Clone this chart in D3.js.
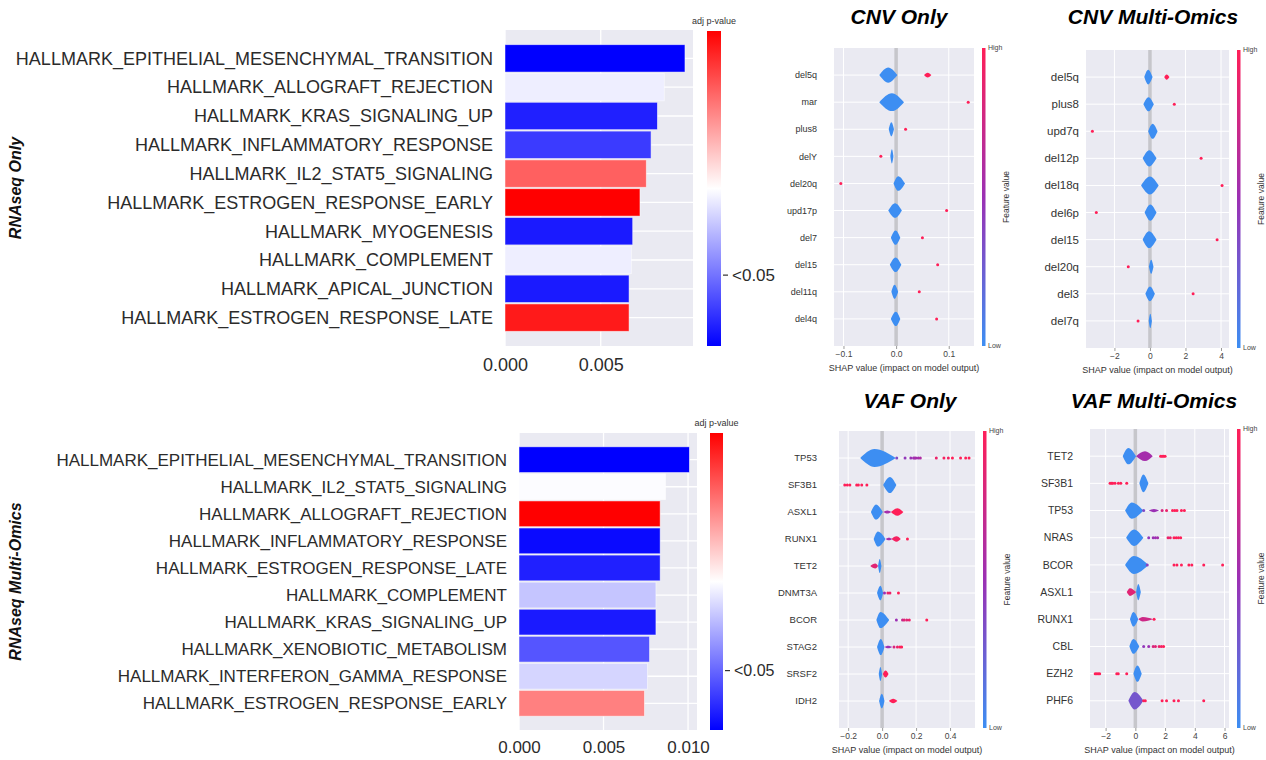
<!DOCTYPE html>
<html>
<head>
<meta charset="utf-8">
<script src="https://cdn.jsdelivr.net/npm/d3@7"></script>
<style>
  body { margin: 0; background: #ffffff; }
  text { font-family: "Liberation Sans", Arial, sans-serif; }
</style>
</head>
<body>
<svg id="fig" width="1266" height="760"></svg>
<script>
// ---------- RNAseq bar charts (enrichment score, colour = adj p-value position on bwr scale) ----------
var rnaOnlyTerms = [
  "HALLMARK_EPITHELIAL_MESENCHYMAL_TRANSITION",
  "HALLMARK_ALLOGRAFT_REJECTION",
  "HALLMARK_KRAS_SIGNALING_UP",
  "HALLMARK_INFLAMMATORY_RESPONSE",
  "HALLMARK_IL2_STAT5_SIGNALING",
  "HALLMARK_ESTROGEN_RESPONSE_EARLY",
  "HALLMARK_MYOGENESIS",
  "HALLMARK_COMPLEMENT",
  "HALLMARK_APICAL_JUNCTION",
  "HALLMARK_ESTROGEN_RESPONSE_LATE",
];
var rnaOnlyScores = [0.0094, 0.00832, 0.00796, 0.00763, 0.00738, 0.00705, 0.00667, 0.0066, 0.00648, 0.00648];
var rnaOnlyPval = [0, 0.467, 0.063, 0.116, 0.812, 1, 0.05, 0.467, 0.05, 0.95];
var rnaOnlyTicks = [0, 0.005];
var rnaOnlyCbarTick = 0.225; // where "<0.05" sits on the colour bar

var rnaMultiTerms = [
  "HALLMARK_EPITHELIAL_MESENCHYMAL_TRANSITION",
  "HALLMARK_IL2_STAT5_SIGNALING",
  "HALLMARK_ALLOGRAFT_REJECTION",
  "HALLMARK_INFLAMMATORY_RESPONSE",
  "HALLMARK_ESTROGEN_RESPONSE_LATE",
  "HALLMARK_COMPLEMENT",
  "HALLMARK_KRAS_SIGNALING_UP",
  "HALLMARK_XENOBIOTIC_METABOLISM",
  "HALLMARK_INTERFERON_GAMMA_RESPONSE",
  "HALLMARK_ESTROGEN_RESPONSE_EARLY",
];
var rnaMultiScores = [0.01008, 0.00867, 0.00835, 0.00835, 0.00835, 0.0081, 0.0081, 0.00772, 0.0076, 0.00742];
var rnaMultiPval = [0, 0.495, 1, 0.02, 0.063, 0.386, 0.05, 0.167, 0.418, 0.75];
var rnaMultiTicks = [0, 0.005, 0.01];
var rnaMultiCbarTick = 0.2;

// ---------- SHAP summaries ----------
// violins: [row, low, peak, high, half height (share of row step), feature value 0..1]
// dots: [row, shap value, feature value 0..1]
var cnvOnlyFeatures = ["del5q", "mar", "plus8", "delY", "del20q", "upd17p", "del7", "del15", "del11q", "del4q"];
var cnvOnlyViolins = [
  [0, -0.032, -0.015, 0.0025, 0.28, 0], [0, 0.053, 0.06, 0.067, 0.09, 1],
  [1, -0.032, -0.008, 0.015, 0.33, 0],
  [2, -0.014, -0.009, -0.004, 0.26, 0],
  [3, -0.011, -0.008, -0.005, 0.26, 0],
  [4, -0.005, 0.004, 0.017, 0.27, 0],
  [5, -0.015, -0.002, 0.011, 0.27, 0],
  [6, -0.01, -0.001, 0.008, 0.26, 0],
  [7, -0.012, -0.001, 0.01, 0.27, 0],
  [8, -0.009, -0.003, 0.004, 0.26, 0],
  [9, -0.01, -0.0005, 0.008, 0.26, 0],
];
var cnvOnlyDots = [[1, 0.137, 1], [2, 0.018, 1], [3, -0.029, 1], [4, -0.105, 1], [5, 0.096, 1],
  [6, 0.05, 1], [7, 0.079, 1], [8, 0.044, 1], [9, 0.077, 1]];
var cnvOnlyDomain = [-0.118, 0.148];
var cnvOnlyTicks = [-0.1, 0, 0.1];

var cnvMultiFeatures = ["del5q", "plus8", "upd7q", "del12p", "del18q", "del6p", "del15", "del20q", "del3", "del7q"];
var cnvMultiViolins = [
  [0, -0.32, -0.1, 0.15, 0.27, 0], [0, 0.8, 0.94, 1.1, 0.1, 1],
  [1, -0.37, -0.08, 0.22, 0.26, 0],
  [2, -0.1, 0.15, 0.43, 0.28, 0],
  [3, -0.41, -0.04, 0.37, 0.3, 0],
  [4, -0.5, 0.0, 0.49, 0.33, 0],
  [5, -0.3, 0.02, 0.37, 0.3, 0],
  [6, -0.41, -0.05, 0.37, 0.31, 0],
  [7, -0.06, 0.07, 0.2, 0.26, 0],
  [8, -0.26, 0.0, 0.28, 0.27, 0],
  [9, -0.07, 0.02, 0.11, 0.26, 0],
];
var cnvMultiDots = [[1, 1.37, 1], [2, -3.24, 1], [3, 2.88, 1], [4, 4.06, 1], [5, -3.02, 1],
  [6, 3.78, 1], [7, -1.22, 1], [8, 2.43, 1], [9, -0.67, 1]];
var cnvMultiDomain = [-3.6, 4.45];
var cnvMultiTicks = [-2, 0, 2, 4];

var vafOnlyFeatures = ["TP53", "SF3B1", "ASXL1", "RUNX1", "TET2", "DNMT3A", "BCOR", "STAG2", "SRSF2", "IDH2"];
var vafOnlyViolins = [
  [0, -0.129, -0.045, 0.08, 0.33, 0],
  [1, 0.006, 0.046, 0.084, 0.3, 0],
  [2, -0.066, -0.036, 0.004, 0.28, 0], [2, 0.006, 0.03, 0.056, 0.06, 0.55], [2, 0.052, 0.09, 0.125, 0.14, 1],
  [3, -0.05, -0.025, 0.02, 0.28, 0], [3, 0.02, 0.04, 0.06, 0.05, 0.55], [3, 0.055, 0.085, 0.11, 0.1, 0.95],
  [4, -0.024, -0.014, -0.004, 0.26, 0], [4, -0.07, -0.04, -0.024, 0.09, 0.85],
  [5, -0.03, -0.01, 0.006, 0.27, 0],
  [6, -0.034, -0.01, 0.042, 0.3, 0],
  [7, -0.03, -0.008, 0.014, 0.3, 0], [7, 0.014, 0.035, 0.06, 0.05, 0.5],
  [8, -0.02, -0.01, 0.0, 0.26, 0], [8, 0.004, 0.02, 0.038, 0.13, 1],
  [9, -0.018, -0.002, 0.014, 0.27, 0], [9, 0.04, 0.065, 0.09, 0.08, 1],
];
var vafOnlyDots = [
  [0, 0.086, 0.35], [0, 0.135, 0.45], [0, 0.169, 0.5], [0, 0.185, 0.5], [0, 0.192, 0.55], [0, 0.199, 0.55],
  [0, 0.213, 0.55], [0, 0.225, 0.6], [0, 0.319, 0.9], [0, 0.364, 0.95], [0, 0.39, 0.95], [0, 0.414, 1],
  [0, 0.462, 1], [0, 0.492, 1], [0, 0.512, 1],
  [1, -0.22, 1], [1, -0.205, 1], [1, -0.19, 1], [1, -0.15, 1], [1, -0.14, 1], [1, -0.12, 1], [1, -0.09, 1],
  [3, 0.149, 1],
  [5, 0.014, 0.5], [5, 0.034, 0.9], [5, 0.046, 0.9], [5, 0.096, 1],
  [6, 0.084, 0.5], [6, 0.12, 0.7], [6, 0.13, 0.85], [6, 0.145, 0.85], [6, 0.16, 0.9], [6, 0.263, 1],
  [7, 0.07, 0.8], [7, 0.09, 0.9], [7, 0.105, 1], [7, 0.115, 1],
];
var vafOnlyDomain = [-0.254, 0.547];
var vafOnlyTicks = [-0.2, 0, 0.2, 0.4];

var vafMultiFeatures = ["TET2", "SF3B1", "TP53", "NRAS", "BCOR", "ASXL1", "RUNX1", "CBL", "EZH2", "PHF6"];
var vafMultiViolins = [
  [0, -0.85, -0.47, 0.05, 0.3, 0], [0, 0.05, 0.65, 1.17, 0.18, 0.55],
  [1, 0.27, 0.54, 0.88, 0.33, 0],
  [2, -0.69, -0.24, 0.54, 0.3, 0], [2, 0.9, 1.25, 1.6, 0.06, 0.5],
  [3, -0.62, -0.09, 0.54, 0.3, 0],
  [4, -0.69, -0.1, 0.88, 0.33, 0],
  [5, 0.05, 0.2, 0.37, 0.3, 0], [5, -0.58, -0.36, 0.05, 0.14, 0.85],
  [6, -0.36, -0.13, 0.2, 0.27, 0], [6, 0.2, 0.5, 1.2, 0.08, 0.75],
  [7, -0.4, -0.13, 0.27, 0.27, 0],
  [8, -0.13, 0.14, 0.43, 0.3, 0],
  [9, -0.47, -0.05, 0.54, 0.32, 0.3],
];
var vafMultiDots = [
  [0, 1.7, 1], [0, 1.8, 1], [0, 1.9, 1], [0, 2.0, 1],
  [1, -1.7, 1], [1, -1.6, 1], [1, -1.52, 1], [1, -1.37, 1], [1, -1.14, 1], [1, -0.98, 1], [1, -0.58, 1],
  [2, 0.56, 0.35], [2, 1.8, 0.8], [2, 2.1, 0.9], [2, 2.5, 1], [2, 2.65, 1], [2, 2.8, 1], [2, 3.1, 1], [2, 3.3, 1],
  [3, 0.9, 0.45], [3, 1.2, 0.5], [3, 1.35, 0.5], [3, 1.5, 0.55], [3, 2.2, 0.9], [3, 2.35, 0.9],
  [3, 2.6, 1], [3, 2.75, 1], [3, 2.9, 1], [3, 3.05, 1],
  [4, 0.8, 0.4], [4, 2.6, 1], [4, 2.8, 1], [4, 3.1, 1], [4, 3.6, 1], [4, 3.8, 1], [4, 4.6, 1], [4, 5.87, 1],
  [6, 1.26, 1],
  [7, 0.56, 0.45], [7, 0.9, 0.5], [7, 1.2, 0.8], [7, 1.35, 0.85], [7, 1.6, 0.9], [7, 1.75, 0.95], [7, 1.9, 1],
  [8, -2.7, 1], [8, -2.6, 1], [8, -2.5, 1], [8, -2.4, 1], [8, -1.25, 1], [8, -1.15, 1], [8, -0.58, 1],
  [9, 0.56, 1], [9, 0.67, 1], [9, 1.8, 1], [9, 2.1, 1], [9, 2.6, 1], [9, 2.9, 1], [9, 4.6, 1],
];
var vafMultiDomain = [-3.05, 6.3];
var vafMultiTicks = [-2, 0, 2, 4, 6];

var svg = d3.select("#fig");
var defs = svg.append("defs");

var bwr = d3.scaleLinear().domain([0, 0.5, 1]).range(["#0000ff", "#ffffff", "#ff0000"]);
var shapColor = d3.scaleLinear().domain([0, 0.5, 1]).range(["#3d8ef2", "#9b30b4", "#ff1f58"]);

function gradient(id, scale) {
  var g = defs.append("linearGradient").attr("id", id)
    .attr("x1", 0).attr("y1", 1).attr("x2", 0).attr("y2", 0);
  [0, 0.25, 0.5, 0.75, 1].forEach(function (t) {
    g.append("stop").attr("offset", t).attr("stop-color", scale(t));
  });
}
gradient("bwrGrad", bwr);
gradient("shapGrad", shapColor);

/**
 * Horizontal bar chart with seaborn darkgrid look and a bwr colour bar
 */
function drawBars(c, terms, scores, pvals, ticks, cbarTick) {
  var g = svg.append("g");
  var xScale = d3.scaleLinear().domain([0, c.xmax]).range([c.left, c.right]);
  var yScale = d3.scaleBand().domain(terms).range([c.top, c.bottom])
    .paddingInner(0.05).paddingOuter(0.51);

  g.append("rect").attr("x", c.left).attr("y", c.top)
    .attr("width", c.right - c.left).attr("height", c.bottom - c.top).attr("fill", "#eaeaf2");

  g.selectAll(".vgrid").data(ticks).enter().append("line")
    .attr("x1", function (d) { return xScale(d); }).attr("x2", function (d) { return xScale(d); })
    .attr("y1", c.top).attr("y2", c.bottom).attr("stroke", "#fff").attr("stroke-width", 1.3);
  g.selectAll(".hgrid").data(terms).enter().append("line")
    .attr("x1", c.left).attr("x2", c.right)
    .attr("y1", function (d) { return yScale(d) + yScale.bandwidth() / 2; })
    .attr("y2", function (d) { return yScale(d) + yScale.bandwidth() / 2; })
    .attr("stroke", "#fff").attr("stroke-width", 1.3);

  g.selectAll(".bar").data(terms).enter().append("rect")
    .attr("x", xScale(0))
    .attr("y", function (d) { return yScale(d); })
    .attr("width", function (d, i) { return xScale(scores[i]) - xScale(0); })
    .attr("height", yScale.bandwidth())
    .attr("fill", function (d, i) { return bwr(pvals[i]); })
    .attr("stroke", "#ffffff").attr("stroke-opacity", 0.6).attr("stroke-width", 0.8);

  g.selectAll(".lab").data(terms).enter().append("text")
    .attr("x", c.left - 12)
    .attr("y", function (d) { return yScale(d) + yScale.bandwidth() / 2; })
    .attr("dy", "0.35em").attr("text-anchor", "end")
    .attr("font-size", c.labelSize).attr("fill", "#2b2b2b")
    .text(function (d) { return d; });

  var ax = g.append("g").attr("transform", "translate(0," + c.bottom + ")")
    .call(d3.axisBottom(xScale).tickValues(ticks).tickFormat(d3.format(".3f")).tickSize(0).tickPadding(c.tickPad));
  ax.select(".domain").remove();
  ax.selectAll("text").attr("font-size", c.labelSize).attr("fill", "#2b2b2b")
    .style("font-family", '"Liberation Sans", Arial, sans-serif');

  // colour bar
  var cb = c.cbar;
  g.append("rect").attr("x", cb.x).attr("y", cb.top).attr("width", cb.w)
    .attr("height", cb.bottom - cb.top).attr("fill", "url(#bwrGrad)");
  g.append("text").attr("x", cb.x + cb.w / 2).attr("y", cb.top - 7)
    .attr("text-anchor", "middle").attr("font-size", 9).attr("fill", "#333").text("adj p-value");
  var ty = cb.bottom - cbarTick * (cb.bottom - cb.top);
  g.append("line").attr("x1", cb.x + cb.w + 2).attr("x2", cb.x + cb.w + 7)
    .attr("y1", ty).attr("y2", ty).attr("stroke", "#333").attr("stroke-width", 1.2);
  g.append("text").attr("x", cb.x + cb.w + 11).attr("y", ty).attr("dy", "0.35em")
    .attr("font-size", c.labelSize - 1).attr("fill", "#2b2b2b").text("<0.05");

  g.append("text")
    .attr("transform", "translate(" + c.titleX + "," + ((c.top + c.bottom) / 2) + ")rotate(-90)")
    .attr("text-anchor", "middle").attr("font-size", 16)
    .attr("font-weight", "bold").attr("font-style", "italic").attr("fill", "#111")
    .text(c.title);
}

/**
 * SHAP violin summary plot
 */
function drawShap(c, features, violins, dots, domain, ticks, fmt) {
  var g = svg.append("g");
  var xScale = d3.scaleLinear().domain(domain).range([c.left, c.right]);
  var yScale = d3.scalePoint().domain(d3.range(features.length)).range([c.top, c.bottom]).padding(1);
  var step = yScale.step();

  g.append("rect").attr("x", c.left).attr("y", c.top)
    .attr("width", c.right - c.left).attr("height", c.bottom - c.top).attr("fill", "#eaeaf2");
  g.selectAll(".vgrid").data(ticks).enter().append("line")
    .attr("x1", function (d) { return xScale(d); }).attr("x2", function (d) { return xScale(d); })
    .attr("y1", c.top).attr("y2", c.bottom).attr("stroke", "#fff").attr("stroke-width", 1);
  g.selectAll(".hgrid").data(features).enter().append("line")
    .attr("x1", c.left).attr("x2", c.right)
    .attr("y1", function (d, i) { return yScale(i); }).attr("y2", function (d, i) { return yScale(i); })
    .attr("stroke", "#fff").attr("stroke-width", 1);
  g.append("line").attr("x1", xScale(0)).attr("x2", xScale(0))
    .attr("y1", c.top).attr("y2", c.bottom).attr("stroke", "#c6c6cb").attr("stroke-width", 3.5);

  violins.forEach(function (v) {
    var yc = yScale(v[0]);
    var area = d3.area()
      .x(function (p) { return xScale(p[0]); })
      .y0(function (p) { return yc - p[1] * step; })
      .y1(function (p) { return yc + p[1] * step; })
      .curve(d3.curveMonotoneX);
    g.append("path").datum([[v[1], 0], [v[2], v[4]], [v[3], 0]])
      .attr("d", area).attr("fill", shapColor(v[5]));
  });

  g.selectAll(".dot").data(dots).enter().append("circle")
    .attr("cx", function (d) { return xScale(d[1]); })
    .attr("cy", function (d) { return yScale(d[0]); })
    .attr("r", 1.5)
    .attr("fill", function (d) { return shapColor(d[2]); });

  g.selectAll(".flab").data(features).enter().append("text")
    .attr("x", c.labelX).attr("y", function (d, i) { return yScale(i); })
    .attr("dy", "0.35em").attr("text-anchor", "end")
    .attr("font-size", c.labelSize).attr("fill", "#333")
    .text(function (d) { return d; });

  var ax = g.append("g").attr("transform", "translate(0," + c.bottom + ")")
    .call(d3.axisBottom(xScale).tickValues(ticks).tickFormat(d3.format(fmt)).tickSize(3).tickPadding(2));
  ax.select(".domain").remove();
  ax.selectAll("line").attr("stroke", "#555").attr("stroke-width", 0.6);
  ax.selectAll("text").attr("font-size", 8.5).attr("fill", "#444")
    .style("font-family", '"Liberation Sans", Arial, sans-serif');

  g.append("text").attr("x", (c.left + c.right) / 2).attr("y", c.bottom + 25)
    .attr("text-anchor", "middle").attr("font-size", 9).attr("fill", "#333")
    .text("SHAP value (impact on model output)");

  g.append("text").attr("x", c.titleX).attr("y", c.titleY)
    .attr("text-anchor", "middle").attr("font-size", 21)
    .attr("font-weight", "bold").attr("font-style", "italic").attr("fill", "#000")
    .text(c.title);

  // feature value colour bar
  var cbx = c.right + 8;
  g.append("rect").attr("x", cbx).attr("y", c.top).attr("width", 3.5)
    .attr("height", c.bottom - c.top).attr("fill", "url(#shapGrad)");
  g.append("text").attr("x", cbx + 6).attr("y", c.top + 2).attr("font-size", 7)
    .attr("fill", "#444").text("High");
  g.append("text").attr("x", cbx + 6).attr("y", c.bottom + 2).attr("font-size", 7)
    .attr("fill", "#444").text("Low");
  g.append("text")
    .attr("transform", "translate(" + (cbx + 27) + "," + ((c.top + c.bottom) / 2) + ")rotate(-90)")
    .attr("text-anchor", "middle").attr("font-size", 8.5).attr("fill", "#333")
    .text("Feature value");
}

drawBars({ left: 505, right: 693, top: 30, bottom: 346, xmax: 0.00982, labelSize: 18, tickPad: 12,
  titleX: 21, title: "RNAseq Only", cbar: { x: 707, w: 14, top: 31, bottom: 346 } },
  rnaOnlyTerms, rnaOnlyScores, rnaOnlyPval, rnaOnlyTicks, rnaOnlyCbarTick);

drawBars({ left: 519, right: 697, top: 433, bottom: 730, xmax: 0.01053, labelSize: 17, tickPad: 11,
  titleX: 21, title: "RNAseq Multi-Omics", cbar: { x: 710, w: 13, top: 433, bottom: 730 } },
  rnaMultiTerms, rnaMultiScores, rnaMultiPval, rnaMultiTicks, rnaMultiCbarTick);

drawShap({ left: 834, right: 974, top: 48, bottom: 346, labelX: 817, labelSize: 9,
  title: "CNV Only", titleX: 899, titleY: 24 },
  cnvOnlyFeatures, cnvOnlyViolins, cnvOnlyDots, cnvOnlyDomain, cnvOnlyTicks, ".1f");

drawShap({ left: 1086, right: 1229, top: 50, bottom: 348, labelX: 1079, labelSize: 11.5,
  title: "CNV Multi-Omics", titleX: 1153, titleY: 24 },
  cnvMultiFeatures, cnvMultiViolins, cnvMultiDots, cnvMultiDomain, cnvMultiTicks, "d");

drawShap({ left: 839, right: 975, top: 431, bottom: 728, labelX: 817, labelSize: 9.5,
  title: "VAF Only", titleX: 910, titleY: 408 },
  vafOnlyFeatures, vafOnlyViolins, vafOnlyDots, vafOnlyDomain, vafOnlyTicks, ".1f");

drawShap({ left: 1090, right: 1229, top: 429, bottom: 728, labelX: 1073, labelSize: 10.5,
  title: "VAF Multi-Omics", titleX: 1154, titleY: 408 },
  vafMultiFeatures, vafMultiViolins, vafMultiDots, vafMultiDomain, vafMultiTicks, "d");
</script>
</body>
</html>
